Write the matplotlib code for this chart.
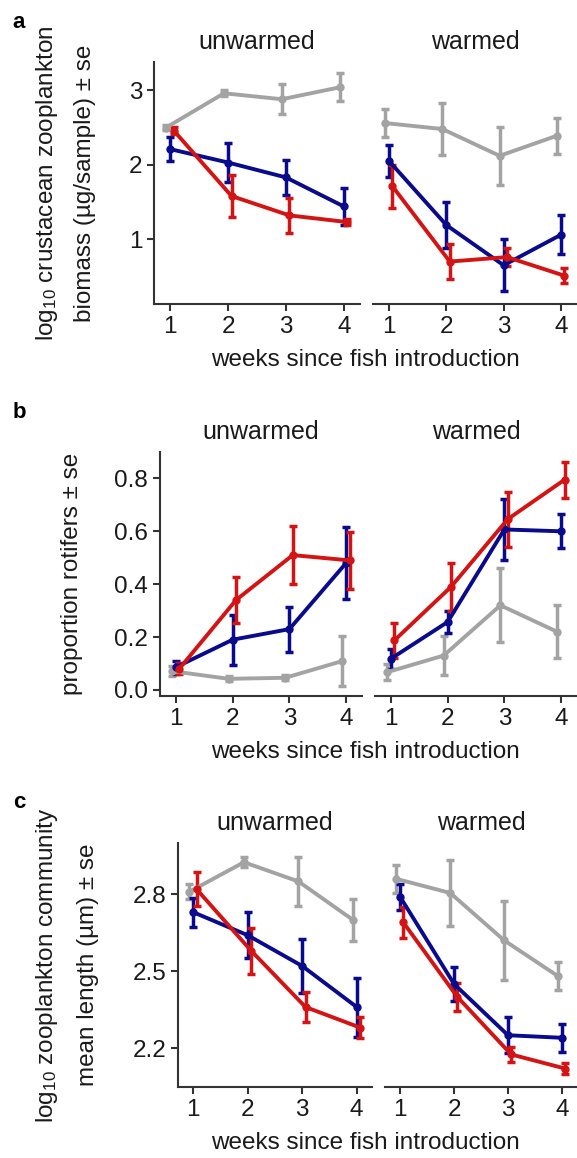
import matplotlib.pyplot as plt

plt.rcParams['font.family'] = ['Liberation Sans', 'DejaVu Sans']
plt.rcParams['mathtext.fontset'] = 'custom'
plt.rcParams['mathtext.rm'] = 'Liberation Sans'
plt.rcParams['mathtext.it'] = 'Liberation Sans:italic'

weeks = [1, 2, 3, 4]
facets = ["unwarmed", "warmed"]

# panel a: log10 crustacean zooplankton biomass
a_unw_grey = [2.50, 2.96, 2.88, 3.04]
a_unw_grey_se = [0.03, 0.04, 0.20, 0.19]
a_unw_blue = [2.21, 2.03, 1.83, 1.44]
a_unw_blue_se = [0.16, 0.26, 0.23, 0.25]
a_unw_red = [2.46, 1.58, 1.32, 1.23]
a_unw_red_se = [0.05, 0.28, 0.23, 0.04]
a_w_grey = [2.56, 2.48, 2.12, 2.39]
a_w_grey_se = [0.19, 0.35, 0.39, 0.24]
a_w_blue = [2.05, 1.19, 0.65, 1.06]
a_w_blue_se = [0.22, 0.31, 0.35, 0.26]
a_w_red = [1.71, 0.70, 0.76, 0.51]
a_w_red_se = [0.29, 0.24, 0.12, 0.10]

# panel b: proportion rotifers
b_unw_grey = [0.071, 0.042, 0.046, 0.109]
b_unw_grey_se = [0.02, 0.01, 0.01, 0.094]
b_unw_blue = [0.086, 0.19, 0.23, 0.48]
b_unw_blue_se = [0.025, 0.094, 0.085, 0.135]
b_unw_red = [0.08, 0.34, 0.51, 0.49]
b_unw_red_se = [0.02, 0.087, 0.11, 0.108]
b_w_grey = [0.067, 0.13, 0.32, 0.22]
b_w_grey_se = [0.03, 0.075, 0.14, 0.10]
b_w_blue = [0.118, 0.257, 0.607, 0.60]
b_w_blue_se = [0.037, 0.04, 0.114, 0.064]
b_w_red = [0.187, 0.39, 0.646, 0.795]
b_w_red_se = [0.065, 0.09, 0.104, 0.068]

# panel c: log10 community mean length
c_unw_grey = [2.81, 2.925, 2.85, 2.70]
c_unw_grey_se = [0.03, 0.02, 0.095, 0.083]
c_unw_blue = [2.73, 2.64, 2.52, 2.36]
c_unw_blue_se = [0.057, 0.09, 0.107, 0.115]
c_unw_red = [2.82, 2.58, 2.36, 2.28]
c_unw_red_se = [0.065, 0.09, 0.06, 0.04]
c_w_grey = [2.86, 2.805, 2.62, 2.48]
c_w_grey_se = [0.055, 0.13, 0.155, 0.055]
c_w_blue = [2.79, 2.45, 2.25, 2.24]
c_w_blue_se = [0.05, 0.065, 0.07, 0.055]
c_w_red = [2.69, 2.40, 2.175, 2.12]
c_w_red_se = [0.06, 0.055, 0.03, 0.02]

colors = {"grey": "#a3a3a3", "blue": "#0a0a8c", "red": "#d41414"}
dodge = {"grey": -0.07, "blue": 0.0, "red": 0.06}
TXT = "#1a1a1a"
FS = 17.5

panels = [
    dict(letter="a",
         series=[[("grey", a_unw_grey, a_unw_grey_se), ("blue", a_unw_blue, a_unw_blue_se), ("red", a_unw_red, a_unw_red_se)],
                 [("grey", a_w_grey, a_w_grey_se), ("blue", a_w_blue, a_w_blue_se), ("red", a_w_red, a_w_red_se)]],
         ylim=(0.13, 3.38), yticks=[1, 2, 3], yfmt="{:.0f}",
         axes=[(154, 62, 206, 242), (373, 62, 204, 242)],
         ylabel=[("log$_{10}$ crustacean zooplankton", 47), ("biomass (µg/sample) ± se", 85)]),
    dict(letter="b",
         series=[[("grey", b_unw_grey, b_unw_grey_se), ("blue", b_unw_blue, b_unw_blue_se), ("red", b_unw_red, b_unw_red_se)],
                 [("grey", b_w_grey, b_w_grey_se), ("blue", b_w_blue, b_w_blue_se), ("red", b_w_red, b_w_red_se)]],
         ylim=(-0.023, 0.90), yticks=[0.0, 0.2, 0.4, 0.6, 0.8], yfmt="{:.1f}",
         axes=[(160, 452, 202, 244), (375, 452, 202, 244)],
         ylabel=[("proportion rotifers ± se", 72)]),
    dict(letter="c",
         series=[[("grey", c_unw_grey, c_unw_grey_se), ("blue", c_unw_blue, c_unw_blue_se), ("red", c_unw_red, c_unw_red_se)],
                 [("grey", c_w_grey, c_w_grey_se), ("blue", c_w_blue, c_w_blue_se), ("red", c_w_red, c_w_red_se)]],
         ylim=(2.048, 3.0), yticks=[2.2, 2.5, 2.8], yfmt="{:.1f}",
         axes=[(178, 843, 194, 244), (385, 843, 192, 244)],
         ylabel=[("log$_{10}$ zooplankton community", 47), ("mean length (µm) ± se", 88)]),
]

W, H = 577, 1158
fig = plt.figure(figsize=(W / 100, H / 100), dpi=100)

for p in panels:
    for k, (x0, y0, w, h) in enumerate(p["axes"]):
        ax = fig.add_axes([x0 / W, 1 - (y0 + h) / H, w / W, h / H])
        for name, vals, se in p["series"][k]:
            xs = [wk + dodge[name] for wk in weeks]
            ax.errorbar(xs, vals, yerr=se, color=colors[name], lw=2.8,
                        elinewidth=2.5, capsize=2.6, capthick=2.5,
                        marker="o", ms=5, zorder=3)
        ax.set_xlim(0.72, 4.28)
        ax.set_ylim(*p["ylim"])
        ax.set_xticks(weeks)
        ax.set_xticklabels([str(wk) for wk in weeks])
        for s in ["top", "right"]:
            ax.spines[s].set_visible(False)
        ax.spines["bottom"].set_linewidth(1.5)
        ax.spines["bottom"].set_color("#333333")
        ax.tick_params(axis="both", length=5, width=1.5, color="#333333",
                       labelsize=FS, labelcolor=TXT, pad=3.5)
        if k == 0:
            ax.spines["left"].set_linewidth(1.5)
            ax.spines["left"].set_color("#333333")
            ax.set_yticks(p["yticks"])
            ax.set_yticklabels([p["yfmt"].format(t) for t in p["yticks"]])
        else:
            ax.spines["left"].set_visible(False)
            ax.set_yticks([])
        ax.annotate(facets[k], xy=(0.5, 1), xycoords="axes fraction",
                    xytext=(0, 14.4), textcoords="offset points",
                    ha="center", va="center", fontsize=18, color=TXT)
    top = p["axes"][0][1]
    bottom = top + p["axes"][0][3]
    fig.text(19 / W, 1 - (top - 40) / H, p["letter"], fontsize=16,
             fontweight="bold", ha="center", va="center", color="black")
    fig.text(365 / W, 1 - (bottom + 56) / H, "weeks since fish introduction",
             fontsize=FS, ha="center", va="center", color=TXT)
    for text, xpix in p["ylabel"]:
        fig.text(xpix / W, 1 - (top + bottom) / 2 / H, text, rotation=90,
                 fontsize=FS, ha="center", va="center", color=TXT)

fig.savefig("out.png", dpi=100)
